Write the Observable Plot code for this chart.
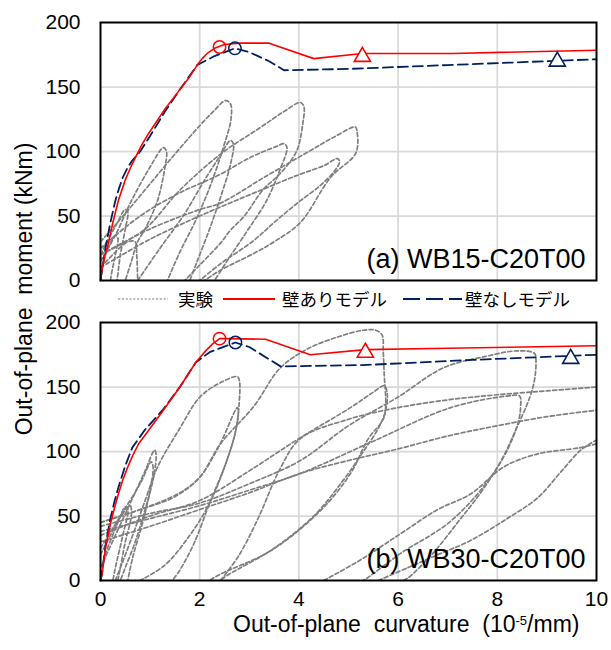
<!DOCTYPE html>
<html><head><meta charset="utf-8">
<script src="https://cdn.jsdelivr.net/npm/d3@7"></script>
<script src="https://cdn.jsdelivr.net/npm/@observablehq/plot@0.6"></script>
<style>
body{margin:0;background:#fff;font-family:"Liberation Sans",Arial,sans-serif;}
#wrap{position:relative;width:611px;height:650px;overflow:hidden;}
.pl{position:absolute;left:0;}
.t{position:absolute;white-space:pre;color:#000;}
.lg{position:absolute;top:287px;font-family:"Noto Sans CJK JP",sans-serif;font-size:17.5px;line-height:24px;white-space:pre;}
</style></head><body><div id="wrap"></div>
<script>
// x ticks / y ticks
const xTicks = [0, 2, 4, 6, 8, 10];
const yTicks = [0, 50, 100, 150, 200];
const gridX = [2, 4, 6, 8];
const gridY = [50, 100, 150];

// Panel (a) WB15-C20T00 : experiment loops [curvature, moment]
const expA = [
  [[0,0],[0.05,12],[0.15,25],[0.3,35],[0.35,33],[0.3,20],[0.22,5],[0.2,0]],
  [[0,35],[0,20],[0.1,28],[0.3,42],[0.5,55],[0.55,53],[0.5,40],[0.4,20],[0.35,5],[0.33,0]],
  [[0,10],[0.3,22],[0.55,30],[0.7,30],[0.73,20],[0.75,0]],
  [[0,15],[0.3,35],[0.6,60],[1.0,88],[1.27,103],[1.33,100],[1.3,88],[1.15,62],[0.9,40],[0.75,30],[0.6,12],[0.5,0]],
  [[0,30],[0.5,52],[1.0,75],[1.5,98],[2.0,120],[2.3,132],[2.52,139.5],[2.62,137],[2.63,125],[2.45,100],[2.2,72],[1.9,45],[1.6,22],[1.35,0]],
  [[0.75,0],[1.2,25],[1.7,52],[2.1,78],[2.4,96],[2.62,108.5],[2.68,106],[2.62,90],[2.45,68],[2.2,40],[1.95,15],[1.8,0]],
  [[0,25],[0.8,50],[1.6,68],[2.4,82],[3.0,95],[3.55,104],[3.7,106],[3.76,103],[3.62,86],[3.35,62],[2.95,38],[2.55,15],[2.3,0]],
  [[0,20],[0.87,39],[1.6,70],[2.42,98],[3.2,118],[3.7,131],[4.03,138],[4.1,135],[4.08,122],[3.95,100],[3.6,82],[3.29,71],[2.9,50],[2.62,39],[2.42,29],[2.0,12],[1.7,0]],
  [[0,20],[1.0,40],[2.0,55],[2.42,60],[3.3,80],[4.2,100],[4.7,111],[5.14,119],[5.17,116],[5.15,99],[4.64,80],[4.03,45],[3.5,30],[3.09,21],[2.42,8],[2.1,0]],
  [[0,10],[1.0,32],[2.0,50],[3.23,70],[4.0,82],[4.5,89],[4.78,94.5],[4.82,92],[4.72,85],[4.44,74],[3.97,60],[3.5,45],[3.09,31],[2.42,13],[2.0,0]]
];
// Panel (a) models
const redA = [[0,0],[0.03,8],[0.08,18],[0.16,29],[0.25,45],[0.36,62],[0.5,78],[0.6,87],[0.7,95],[0.83,105],[0.97,114],[1.3,133],[1.58,147],[1.8,158],[1.95,167],[2.05,172],[2.15,176],[2.3,180],[2.5,183],[2.8,184],[3.4,184],[4.3,172],[5.28,176],[7.1,176],[10,178.5]];
const navyA = [[0,0],[0.03,8],[0.1,25],[0.2,45],[0.3,62],[0.37,71],[0.45,80],[0.54,87],[0.64,93],[0.8,100],[1.0,112],[1.3,131],[1.6,148],[1.95,167],[2.3,174],[2.71,180],[3.0,177],[3.4,170],[3.7,163],[5.0,164],[7.0,167],[10,171.5]];
const redMarkA = {circle:[2.4,181], triangle:[5.28,173.5]};
const navyMarkA = {circle:[2.71,180], triangle:[9.21,169.8]};

// Panel (b) WB30-C20T00 : experiment loops
const expB = [
  [[0,0],[0.1,20],[0.3,40],[0.5,57],[0.55,55],[0.45,35],[0.3,10],[0.25,0]],
  [[0,20],[0.2,35],[0.45,52],[0.6,58],[0.62,50],[0.5,30],[0.4,10],[0.35,0]],
  [[0,10],[0.3,35],[0.6,60],[0.9,85],[1.09,101],[1.12,98],[1.07,80],[0.9,55],[0.7,30],[0.5,10],[0.4,0]],
  [[0,25],[0.4,50],[0.8,75],[1.02,92],[1.06,88],[1.0,70],[0.85,45],[0.65,18],[0.55,0]],
  [[0.3,0],[0.6,30],[0.9,62],[1.15,88],[1.6,118],[2.0,142],[2.4,153],[2.76,158],[2.8,155],[2.8,140],[2.72,115],[2.5,88],[2.2,60],[1.8,35],[1.3,12],[0.8,0]],
  [[0,45],[0.8,55],[1.5,65],[2.0,80],[2.4,105],[2.76,134],[2.78,130],[2.7,112],[2.5,88],[2.2,60],[1.9,30],[1.6,8],[1.45,0]],
  [[0,45],[0.8,55],[1.6,68],[2.0,80],[2.42,106],[3.09,135],[3.63,165],[4.2,180],[4.8,189],[5.3,194],[5.55,194],[5.68,190],[5.7,178],[5.72,160],[5.75,135],[5.7,125],[5.4,110],[5.04,83],[4.43,54],[3.43,23],[2.42,5],[2.2,0]],
  [[0,35],[1.0,50],[2.0,62],[3.0,85],[4.0,110],[5.04,134],[5.5,146],[5.72,151],[5.78,145],[5.75,132],[5.6,118],[5.3,100],[4.9,78],[4.3,50],[3.5,25],[2.6,5],[2.4,0]],
  [[0,42],[1.0,52],[2.0,60],[3.0,75],[4.03,93],[5.0,120],[5.99,142],[6.92,165],[7.8,174],[8.4,178],[8.75,176],[8.78,170],[8.72,150],[8.4,119],[7.92,83],[7.06,46],[6.05,21],[5.38,2],[5.3,0]],
  [[0,38],[1.0,48],[2.0,58],[3.0,70],[4.03,83],[5.5,108],[7.06,134],[8.2,143],[8.45,143],[8.47,135],[8.43,124],[8.2,101],[7.7,70],[7.2,45],[6.7,21],[6.2,2],[6.1,0]],
  [[2.42,0],[2.8,20],[3.2,50],[3.6,85],[4.03,110],[5.0,125],[6.0,134],[7.0,140],[8.0,144],[9.0,147],[10,150]],
  [[0,30],[1.0,42],[2.0,55],[3.0,68],[4.03,83],[5.0,93],[6.0,102],[7.0,112],[8.0,120],[9.0,127],[10,132]],
  [[4.5,0],[5.2,15],[6.0,35],[6.8,55],[7.46,67],[8.13,88],[8.8,98],[9.68,103],[10,106]],
  [[5.6,0],[6.2,10],[6.8,20],[7.46,31],[8.2,48],[8.81,64],[9.3,85],[9.68,101],[10,109]]
];
const redB = [[0,0],[0.03,5],[0.1,25],[0.2,44],[0.28,56],[0.36,67],[0.45,78],[0.55,88],[0.65,97],[0.77,106],[1.0,118],[1.25,131],[1.6,150],[1.92,169],[2.12,178],[2.25,183],[2.4,187.5],[2.6,187.5],[3.33,187],[4.23,175],[5.34,179],[7.0,180],[10,182]];
const navyB = [[0,0],[0.03,5],[0.1,27],[0.2,48],[0.28,61],[0.36,72],[0.5,89],[0.64,103],[0.77,110],[0.9,117],[1.25,132],[1.6,150],[1.92,169],[2.2,177],[2.72,184.5],[3.0,181],[3.63,166],[5.3,167],[7.5,171],[10,175]];
const redMarkB = {circle:[2.4,187.5], triangle:[5.34,176.7]};
const navyMarkB = {circle:[2.72,184.5], triangle:[9.48,171.9]};

const RED = "#ff0000", NAVY = "#002060", GRAY = "#7f7f7f";

function panel(exp, red, navy, rm, nm, label, showX) {
  const expData = exp.flatMap((loop, i) => loop.map(([x, y]) => ({x, y, id: i})));
  return Plot.plot({
    width: 611,
    height: showX ? 350 : 300,
    marginLeft: 100, marginRight: 15, marginTop: 22, marginBottom: showX ? 70 : 20,
    style: {fontFamily: "'Liberation Sans', Arial, sans-serif", fontSize: "21px", color: "#000", background: "transparent"},
    x: {domain: [0, 10], ticks: xTicks, tickSize: 0, tickPadding: 11, label: null, axis: showX ? "bottom" : null},
    y: {domain: [0, 200], ticks: yTicks, tickSize: 0, tickPadding: 20, label: null},
    marks: [
      Plot.ruleX(gridX, {stroke: "#d9d9d9", strokeWidth: 1.75}),
      Plot.ruleY(gridY, {stroke: "#d9d9d9", strokeWidth: 1.75}),
      Plot.line(expData, {x: "x", y: "y", z: "id", stroke: GRAY, strokeWidth: 1.7, strokeDasharray: "4,2.5", curve: "catmull-rom", clip: true}),
      Plot.line(navy, {x: d => d[0], y: d => d[1], stroke: NAVY, strokeWidth: 1.8, strokeDasharray: "10,5"}),
      Plot.line(red, {x: d => d[0], y: d => d[1], stroke: RED, strokeWidth: 1.6}),
      Plot.dot([rm.circle], {x: d => d[0], y: d => d[1], r: 6.2, stroke: RED, strokeWidth: 1.5, fill: "none"}),
      Plot.dot([nm.circle], {x: d => d[0], y: d => d[1], r: 6.2, stroke: NAVY, strokeWidth: 1.5, fill: "none"}),
      Plot.dot([rm.triangle], {x: d => d[0], y: d => d[1], r: 6, symbol: "triangle", stroke: RED, strokeWidth: 1.6, fill: "white"}),
      Plot.dot([nm.triangle], {x: d => d[0], y: d => d[1], r: 6, symbol: "triangle", stroke: NAVY, strokeWidth: 1.6, fill: "white"}),
      Plot.text([label], {frameAnchor: "bottom-right", dx: -11, dy: -13, fontSize: 27, textAnchor: "end", fill: "#000"}),
      Plot.frame({stroke: "#000", strokeWidth: 2})
    ]
  });
}

const wrap = document.getElementById("wrap");
const pa = panel(expA, redA, navyA, redMarkA, navyMarkA, "(a) WB15-C20T00", false);
pa.classList.add("pl"); pa.style.top = "0px";
const pb = panel(expB, redB, navyB, redMarkB, navyMarkB, "(b) WB30-C20T00", true);
pb.classList.add("pl"); pb.style.top = "300px";
wrap.appendChild(pa); wrap.appendChild(pb);

// Legend
const legend = document.createElement("div");
legend.innerHTML = `
<svg style="position:absolute;left:0;top:0" width="611" height="650">
  <line x1="118" x2="168" y1="299" y2="299" stroke="${GRAY}" stroke-width="1.2" stroke-dasharray="2.2,1.6"/>
  <line x1="223" x2="275" y1="299" y2="299" stroke="${RED}" stroke-width="1.8"/>
  <line x1="403" x2="462" y1="299" y2="299" stroke="${NAVY}" stroke-width="1.8" stroke-dasharray="17,6"/>
</svg>
<div class="lg" style="left:178px">実験</div>
<div class="lg" style="left:282px">壁ありモデル</div>
<div class="lg" style="left:465px">壁なしモデル</div>`;
wrap.appendChild(legend);

// Axis titles
const yt = document.createElement("div");
yt.className = "t";
yt.style.cssText += "left:24px;top:289px;font-size:23px;line-height:1.15;transform:translate(-50%,-50%) rotate(-90deg);";
yt.textContent = "Out-of-plane  moment (kNm)";
wrap.appendChild(yt);

const xt = document.createElement("div");
xt.className = "t";
xt.style.cssText += "left:233px;top:613.5px;font-size:23px;line-height:0.9;";
xt.innerHTML = "Out-of-plane  curvature  (10<span style=\"font-size:13px;position:relative;top:-7px;line-height:0\">-5</span>/mm)";
wrap.appendChild(xt);
</script>
</body></html>
